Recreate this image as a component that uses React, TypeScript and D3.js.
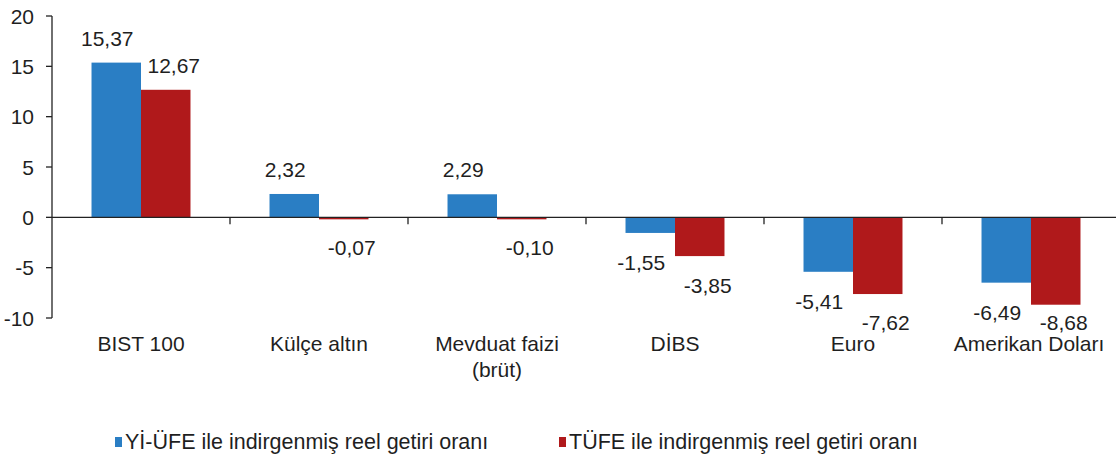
import React from "react";
import * as d3 from "d3";

const categories: string[][] = [
  ["BIST 100"],
  ["Külçe altın"],
  ["Mevduat faizi", "(brüt)"],
  ["DİBS"],
  ["Euro"],
  ["Amerikan Doları"],
];
const seriesNames = ["Yİ-ÜFE ile indirgenmiş reel getiri oranı", "TÜFE ile indirgenmiş reel getiri oranı"];
const yiufe = [15.37, 2.32, 2.29, -1.55, -5.41, -6.49];
const tufe = [12.67, -0.07, -0.1, -3.85, -7.62, -8.68];
const yTicks = [20, 15, 10, 5, 0, -5, -10];
const colors = ["#2a7ec4", "#b0191b"];

const W = 1116;
const H = 461;
const FONT = "'Liberation Sans', Arial, sans-serif";
const TEXT = "#1f1f1f";
const FS = 21;

export default function App() {
  const x0 = d3.scaleBand<number>().domain(d3.range(categories.length)).range([52, 1120]).paddingInner(0).paddingOuter(0);
  const bw = x0.bandwidth();
  const x1 = d3.scaleBand<number>().domain([0, 1]).range([bw * 0.222, bw * 0.778]);
  const y = d3.scaleLinear().domain([-10, 20]).range([318, 16]);
  const series = [yiufe, tufe];
  const fmt = (v: number) => v.toFixed(2).replace(".", ",");
  const labelDx = [-9, 8];

  return (
    <svg width={W} height={H} style={{ position: "fixed", left: 0, top: 0, background: "#fff" }} fontFamily={FONT}>
      <rect x={0} y={0} width={W} height={H} fill="#fff" />
      {/* bars */}
      {series.map((vals, si) =>
        vals.map((v, i) => {
          const bx = (x0(i) as number) + (x1(si) as number);
          const top = y(Math.max(0, v));
          const bot = y(Math.min(0, v));
          return <rect key={`b${si}-${i}`} x={bx} y={top} width={x1.bandwidth()} height={Math.max(bot - top, 2)} fill={colors[si]} />;
        })
      )}
      {/* y axis */}
      <line x1={52} x2={52} y1={y(20)} y2={y(-10)} stroke="#222" strokeWidth={1.3} />
      {yTicks.map((t) => (
        <g key={`yt${t}`}>
          <line x1={46} x2={52} y1={y(t)} y2={y(t)} stroke="#222" strokeWidth={1.3} />
          <text x={34} y={y(t)} dy="0.36em" textAnchor="end" fontSize={FS} fill={TEXT}>
            {t}
          </text>
        </g>
      ))}
      {/* zero axis */}
      <line x1={52} x2={W} y1={y(0)} y2={y(0)} stroke="#222" strokeWidth={1.3} />
      {d3.range(1, categories.length).map((i) => (
        <line key={`xt${i}`} x1={x0(i) as number} x2={x0(i) as number} y1={y(0)} y2={y(0) + 7} stroke="#222" strokeWidth={1.3} />
      ))}
      {/* value labels */}
      {series.map((vals, si) =>
        vals.map((v, i) => {
          const cx = (x0(i) as number) + (x1(si) as number) + x1.bandwidth() / 2 + labelDx[si];
          const ly = v >= 0 ? y(v) - 17 : Math.min(y(v) + 37, 330);
          return (
            <text key={`l${si}-${i}`} x={cx} y={ly} textAnchor="middle" fontSize={FS} fill={TEXT}>
              {fmt(v)}
            </text>
          );
        })
      )}
      {/* category labels */}
      {categories.map((lines, i) => (
        <text key={`c${i}`} textAnchor="middle" fontSize={FS} fill={TEXT}>
          {lines.map((ln, k) => (
            <tspan key={k} x={(x0(i) as number) + bw / 2 - (i === categories.length - 1 ? 2 : 0)} y={351 + k * 26}>
              {ln}
            </tspan>
          ))}
        </text>
      ))}
      {/* legend */}
      {seriesNames.map((name, si) => {
        const lx = si === 0 ? 115 : 559;
        return (
          <g key={`lg${si}`}>
            <rect x={lx} y={437} width={7} height={10} fill={colors[si]} />
            <text x={lx + 10} y={449} fontSize={21.5} fill={TEXT}>
              {name}
            </text>
          </g>
        );
      })}
    </svg>
  );
}
